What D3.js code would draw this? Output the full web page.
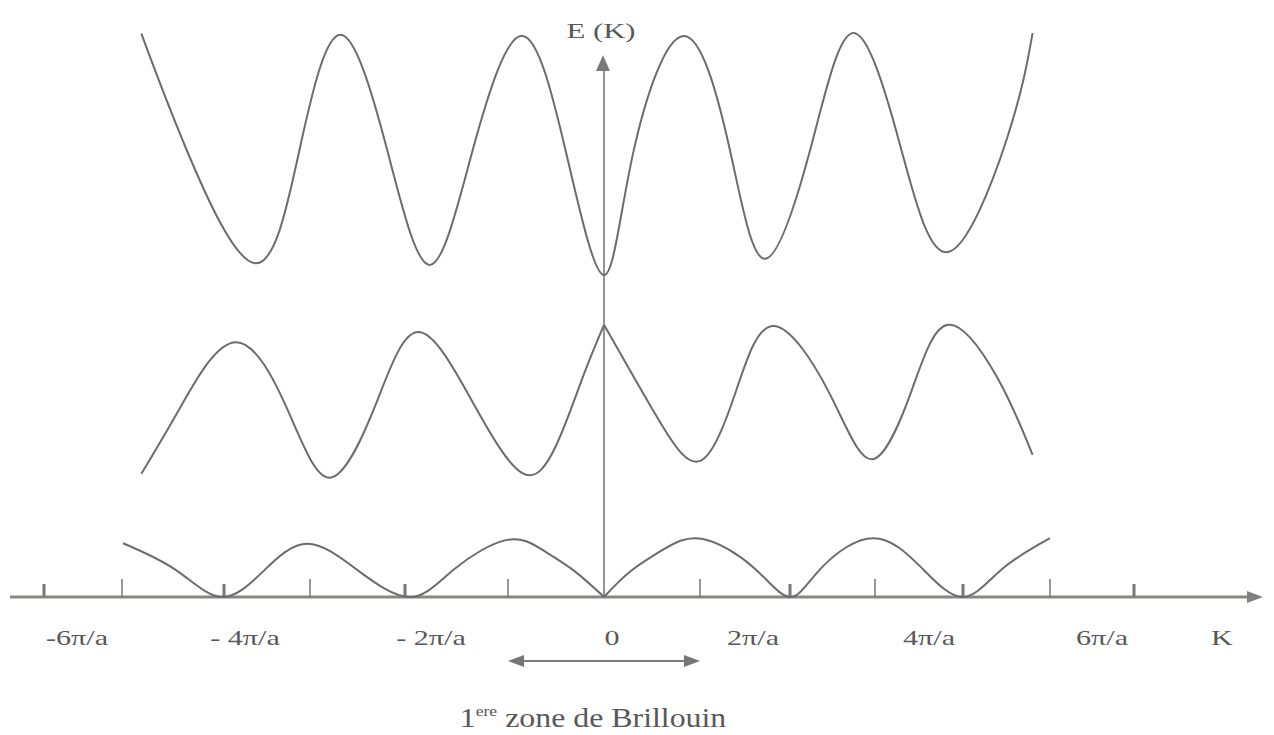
<!DOCTYPE html>
<html>
<head>
<meta charset="utf-8">
<script src="https://cdn.jsdelivr.net/npm/d3@7"></script>
<style>
  body { margin: 0; background: #fff; }
  svg { display: block; }
  text { font-family: "Liberation Serif", "Times New Roman", serif; fill: #585858; }
</style>
</head>
<body>
<svg id="chart" width="1274" height="735"></svg>
<script>
// k is in units of pi/a, E in arbitrary units (0 = K axis)
// points read at the extrema and half-way crossings of each curve

// bottom band, split at k=0 (cusp)
const band1Left = [[-4.99,0.96],[-4.47,0.48],[-4.02,0],[-3.53,0.48],[-3.03,0.95],[-2.50,0.48],[-1.95,0],
  [-1.52,0.50],[-1.01,1.02],[-0.64,0.84],[-0.32,0.48],[0,0]];
const band1Right = [[0,0],[0.27,0.45],[0.61,0.84],[1.02,1.04],[1.60,0.52],[2,0],[2.37,0.52],[2.98,1.05],
  [3.53,0.52],[4,0],[4.45,0.50],[5,1.05]];

// middle band, split at k=0 (peak)
const band2Left = [[-4.81,2.20],[-4.43,3.38],[-3.87,4.55],[-3.26,3.34],[-2.79,2.13],[-2.31,3.43],[-1.87,4.73],
  [-1.34,3.47],[-0.85,2.21],[-0.50,2.70],[-0.22,3.93],[0,4.86]];
const band2Right = [[0,4.86],[0.27,4.05],[0.61,3.05],[1.0,2.43],[1.39,3.63],[1.81,4.84],[2.46,3.65],
  [2.96,2.46],[3.41,3.66],[3.83,4.86],[4.40,3.90],[4.80,2.54]];

// top band
const band3 = [[-4.81,10.06],[-4.37,8.0],[-3.64,5.96],[-3.12,8.0],[-2.68,10.04],[-2.19,8.0],[-1.76,5.93],
  [-1.34,8.0],[-0.85,10.02],[-0.39,7.9],[0,5.75],[0.30,7.9],[0.83,10.02],[1.33,8.0],[1.72,6.04],[2.24,8.0],
  [2.74,10.07],[3.28,8.1],[3.83,6.16],[4.51,8.21],[4.80,10.07]];

const majorTicks = [-6, -4, -2, 2, 4, 6];
const minorTicks = [-5, -3, -1, 1, 3, 5];
const tickLabels = [
  {k: -6, text: "-6π/a"}, {k: -4, text: "- 4π/a"}, {k: -2, text: "- 2π/a"}, {k: 0, text: "0"},
  {k: 2, text: "2π/a"}, {k: 4, text: "4π/a"}, {k: 6, text: "6π/a"}
];
const zoneEnds = [-1, 1];
const axisTop = 9.68;

const svg = d3.select("#chart");
const ink = "#6c6c6c";

// hand drawn original: tick spacing is not uniform
const x = d3.scaleLinear()
  .domain([-6,-5,-4,-3,-2,-1,0,1,2,3,4,5,6])
  .range([44,122,224,310,405,508,604,700,790,875,963,1050,1134]);
const labelX = d3.scaleLinear()
  .domain([-6,-4,-2,0,2,4,6])
  .range([77,245,431,612,753,929,1102]);
const y = d3.scaleLinear().domain([0, 10]).range([597, 37]);

// K axis
svg.append("line")
  .attr("x1", 10).attr("x2", 1250)
  .attr("y1", y(0)).attr("y2", y(0))
  .attr("stroke", "#8a8682").attr("stroke-width", 3);
svg.append("path")
  .attr("d", `M1263,${y(0)} L1247,${y(0)-6} L1247,${y(0)+6} Z`)
  .attr("fill", "#808080");

svg.selectAll("rect.major")
  .data(majorTicks).enter().append("rect")
  .attr("class", "major")
  .attr("x", d => x(d) - 1.5).attr("y", y(0) - 13)
  .attr("width", 3).attr("height", 13)
  .attr("fill", "#777");
svg.selectAll("line.minor")
  .data(minorTicks).enter().append("line")
  .attr("class", "minor")
  .attr("x1", d => x(d)).attr("x2", d => x(d))
  .attr("y1", y(0) - 18).attr("y2", y(0))
  .attr("stroke", "#777").attr("stroke-width", 1.5);

// E axis
svg.append("line")
  .attr("x1", x(0)).attr("x2", x(0))
  .attr("y1", y(0)).attr("y2", y(axisTop) + 12)
  .attr("stroke", "#7a7a7a").attr("stroke-width", 1.6);
svg.append("path")
  .attr("d", `M${x(0)-1},${y(axisTop)} L${x(0)-8},${y(axisTop)+16} L${x(0)+6},${y(axisTop)+16} Z`)
  .attr("fill", "#7a7a7a");

// bands
const line = d3.line()
  .x(d => x(d[0]))
  .y(d => y(d[1]))
  .curve(d3.curveNatural);

svg.selectAll("path.band")
  .data([band1Left, band1Right, band2Left, band2Right, band3])
  .enter().append("path")
  .attr("class", "band")
  .attr("d", line)
  .attr("fill", "none")
  .attr("stroke", ink)
  .attr("stroke-width", 2)
  .attr("stroke-linejoin", "round");

// tick labels (scan is stretched horizontally)
svg.selectAll("text.tick")
  .data(tickLabels).enter().append("text")
  .attr("class", "tick")
  .attr("text-anchor", "middle")
  .attr("font-size", 22)
  .attr("transform", d => `translate(${labelX(d.k)},645) scale(1.37,1)`)
  .text(d => d.text);

svg.append("text")
  .attr("text-anchor", "middle")
  .attr("font-size", 22)
  .attr("transform", "translate(601,38) scale(1.4,1)")
  .text("E (K)");

svg.append("text")
  .attr("text-anchor", "middle")
  .attr("font-size", 22)
  .attr("transform", "translate(1222,645) scale(1.37,1)")
  .text("K");

// first Brillouin zone arrow
const ay = 661;
svg.append("line")
  .attr("x1", x(zoneEnds[0]) + 12).attr("x2", x(zoneEnds[1]) - 12)
  .attr("y1", ay).attr("y2", ay)
  .attr("stroke", "#7a7a7a").attr("stroke-width", 2);
svg.selectAll("path.zonehead")
  .data(zoneEnds).enter().append("path")
  .attr("class", "zonehead")
  .attr("d", d => {
    const tip = x(d), dir = d < 0 ? 1 : -1;
    return `M${tip},${ay} L${tip + dir*16},${ay-6} L${tip + dir*16},${ay+6} Z`;
  })
  .attr("fill", "#777");

const cap = svg.append("text")
  .attr("text-anchor", "middle")
  .attr("font-size", 27)
  .attr("transform", "translate(593,727) scale(1.18,1)");
cap.append("tspan").text("1");
cap.append("tspan").attr("font-size", 15).attr("dy", -11).text("ere");
cap.append("tspan").attr("dy", 11).text(" zone de Brillouin");
</script>
</body>
</html>
